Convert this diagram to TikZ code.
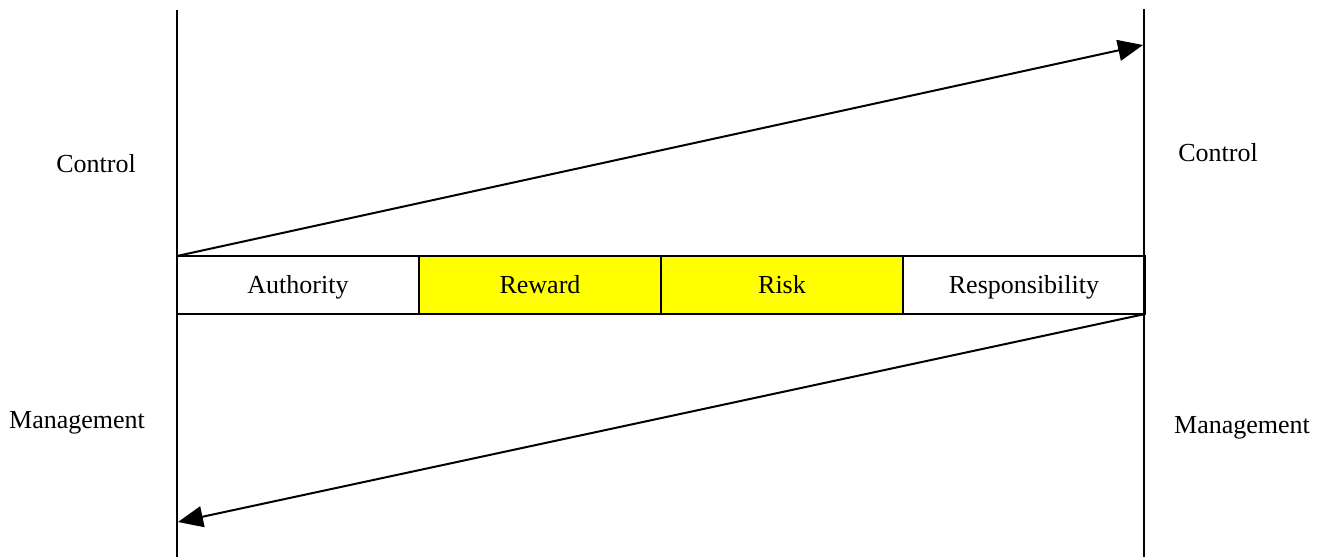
\documentclass[tikz,border=0pt]{standalone}
\usepackage{fontspec}
\setmainfont{Liberation Serif}
\usetikzlibrary{arrows.meta}
\definecolor{hotyellow}{RGB}{255,255,0}
\begin{document}
\begin{tikzpicture}[x=1pt,y=-1pt,
  cell/.style={draw=black,line width=1.5pt,outer sep=0pt,minimum width=242pt,minimum height=58pt,inner sep=0pt,text height=20pt,text depth=3pt,anchor=west,font=\fontsize{26}{30}\selectfont},
  hot/.style={cell,fill=hotyellow},
  lbl/.style={font=\fontsize{26}{30}\selectfont,inner sep=0pt,text height=18pt,text depth=5pt},
  axis/.style={line width=2pt},
  arr/.style={line width=2pt,-{Triangle[length=25pt,width=21pt]}}]
\useasboundingbox (0,0) rectangle (1330,557);
\coordinate (lt) at (177,10);
\coordinate (lb) at (177,557);
\coordinate (rt) at (1144,9);
\coordinate (rb) at (1144,557);
\draw[axis] (lt) -- (lb);
\draw[axis] (rt) -- (rb);
\node[cell] (auth) at (177,285) {Authority};
\node[hot] (rew) at (auth.east) {Reward};
\node[hot] (risk) at (rew.east) {Risk};
\node[cell] (resp) at (risk.east) {Responsibility};
\coordinate (topend) at (1143,45);
\coordinate (botend) at (178,522);
\draw[arr] (auth.north west) -- (topend);
\draw[arr] (resp.south east) -- (botend);
\node[lbl] (c1) at (96,166) {Control};
\node[lbl] (c2) at (1218,155) {Control};
\node[lbl] (m1) at (77,422) {Management};
\node[lbl] (m2) at (1242,427) {Management};
\end{tikzpicture}
\end{document}
